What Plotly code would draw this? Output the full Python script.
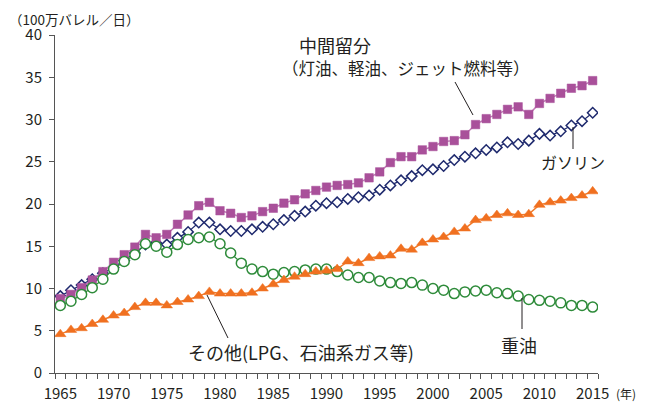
import plotly.graph_objects as go

years = list(range(1965, 2016))

middle_distillates = [8.8, 9.3, 10.1, 11.0, 12.0, 13.1, 14.0, 14.9, 16.4, 16.0,
                      16.4, 17.6, 18.7, 19.8, 20.2, 19.2, 18.9, 18.4, 18.6, 19.1,
                      19.5, 20.1, 20.5, 21.2, 21.6, 22.0, 22.2, 22.3, 22.5, 23.1,
                      23.8, 24.9, 25.6, 25.6, 26.4, 26.8, 27.4, 27.5, 28.2, 29.4,
                      30.1, 30.6, 31.2, 31.5, 30.6, 31.9, 32.5, 33.1, 33.7, 34.0,
                      34.6]
gasoline = [9.1, 9.8, 10.4, 11.1, 11.8, 12.5, 13.3, 14.2, 15.2, 15.4,
            15.2, 16.0, 16.7, 17.8, 17.8, 17.0, 16.8, 16.8, 17.0, 17.3,
            17.6, 18.1, 18.6, 19.1, 19.8, 20.1, 20.2, 20.6, 20.8, 21.0,
            21.7, 22.2, 22.8, 23.3, 24.0, 24.1, 24.5, 25.2, 25.6, 26.0,
            26.4, 26.7, 27.3, 27.1, 27.5, 28.3, 28.1, 28.6, 29.3, 29.8,
            30.8]
green_series = [8.0, 8.5, 9.3, 10.1, 11.1, 12.3, 13.2, 14.0, 15.3, 15.0,
                14.3, 15.2, 15.8, 16.0, 16.1, 15.3, 14.2, 13.0, 12.3, 12.0,
                11.7, 11.9, 12.0, 12.2, 12.3, 12.3, 12.0, 11.6, 11.3, 11.3,
                10.9, 10.7, 10.6, 10.7, 10.4, 10.0, 9.8, 9.4, 9.6, 9.7,
                9.8, 9.5, 9.4, 9.1, 8.7, 8.6, 8.5, 8.3, 8.0, 8.0,
                7.8]
orange_series = [4.6, 5.1, 5.3, 5.8, 6.3, 6.8, 7.1, 7.8, 8.3, 8.3,
                 8.0, 8.4, 8.7, 9.1, 9.6, 9.4, 9.4, 9.4, 9.5, 10.0,
                 10.5, 11.0, 11.4, 11.7, 12.0, 12.1, 12.3, 13.2, 13.0, 13.6,
                 13.8, 13.9, 14.7, 14.6, 15.4, 15.8, 16.1, 16.7, 17.1, 18.1,
                 18.3, 18.7, 18.9, 18.7, 18.8, 19.9, 20.2, 20.4, 20.7, 21.0,
                 21.5]

x_tick_vals = [1965, 1970, 1975, 1980, 1985, 1990, 1995, 2000, 2005, 2010, 2015]
y_tick_vals = [0, 5, 10, 15, 20, 25, 30, 35, 40]

FONT = "Noto Sans CJK JP"
OFF = 8  # page body margin
W, H = 642, 402
L, R, T, B = 47, 52, 27, 37
PW, PH = W - L - R, H - T - B

def px(x):
    return (x - OFF - L) / PW

def py(y):
    return (H - B - (y - OFF)) / PH

fig = go.Figure()

fig.add_trace(go.Scatter(
    x=years, y=gasoline, mode="lines+markers", name="ガソリン",
    line=dict(color="#1f2a6e", width=1.2),
    marker=dict(symbol="diamond", size=8, color="white",
                line=dict(color="#1f2a6e", width=1.5))))
fig.add_trace(go.Scatter(
    x=years, y=middle_distillates, mode="lines+markers", name="中間留分",
    line=dict(color="#c07ab5", width=1.5),
    marker=dict(symbol="square", size=8.5, color="#a9509a",
                line=dict(color="#a9509a", width=0.5))))
fig.add_trace(go.Scatter(
    x=years, y=green_series, mode="lines+markers", name="重油",
    line=dict(color="#2e8b3a", width=1.2),
    marker=dict(symbol="circle", size=10, color="white",
                line=dict(color="#2e8b3a", width=1.5))))
fig.add_trace(go.Scatter(
    x=years, y=orange_series, mode="lines+markers", name="その他",
    line=dict(color="#f07a2a", width=1.5),
    marker=dict(symbol="triangle-up", size=10, color="#f07020",
                line=dict(color="#f07020", width=0.5))))

ann = []
def text(x, y, s, size=16, xanchor="center", yanchor="middle", pad=1):
    ann.append(dict(x=px(x), y=py(y), xref="paper", yref="paper", text=s,
                    showarrow=False, xanchor=xanchor, yanchor=yanchor,
                    borderpad=pad,
                    font=dict(family=FONT, size=size, color="#231f20")))

text(297, 45, "中間留分", 18, "left")
text(280, 68, "（灯油、軽油、ジェット燃料等）", 16.5, "left")
text(573, 162, "ガソリン", 16)
text(519, 345, "重油", 18)
text(301, 352, "その他(LPG、石油系ガス等)", 18)
text(8, 8, "（100万バレル／日）", 13.5, "left", "top", 0)
text(614, 393, "(年)", 12, "left")

shapes = []
def seg(x0, y0, x1, y1):
    shapes.append(dict(type="line", xref="paper", yref="paper",
                       x0=px(x0), y0=py(y0), x1=px(x1), y1=py(y1),
                       line=dict(color="#231f20", width=1)))

seg(455, 82, 473, 115)
seg(573, 127, 573, 149)
seg(522, 298, 522, 329)
seg(207, 295, 228, 338)

fig.update_layout(
    width=W, height=H,
    margin=dict(l=L, r=R, t=T, b=B, autoexpand=False),
    paper_bgcolor="white", plot_bgcolor="white",
    showlegend=False,
    annotations=ann, shapes=shapes,
    font=dict(family=FONT, color="#231f20"),
)
fig.update_xaxes(
    range=[1964.5, 2015.5], tickvals=x_tick_vals,
    ticktext=[str(v) for v in x_tick_vals],
    ticks="", showgrid=False, zeroline=False, automargin=False,
    showline=True, linecolor="#555555", linewidth=1,
    ticklabelstandoff=7,
    tickfont=dict(family=FONT, size=15, color="#231f20"),
    minor=dict(tickvals=[1964.5 + i for i in range(52)], ticks="outside",
               ticklen=5, tickcolor="#555555", showgrid=False),
)
fig.update_yaxes(
    range=[0, 40], tickvals=y_tick_vals,
    ticks="outside", ticklen=5, tickcolor="#555555",
    showgrid=False, zeroline=False, automargin=False,
    showline=True, linecolor="#555555", linewidth=1,
    ticklabelstandoff=4,
    tickfont=dict(family=FONT, size=15, color="#231f20"),
)

fig.write_html("out.html")
